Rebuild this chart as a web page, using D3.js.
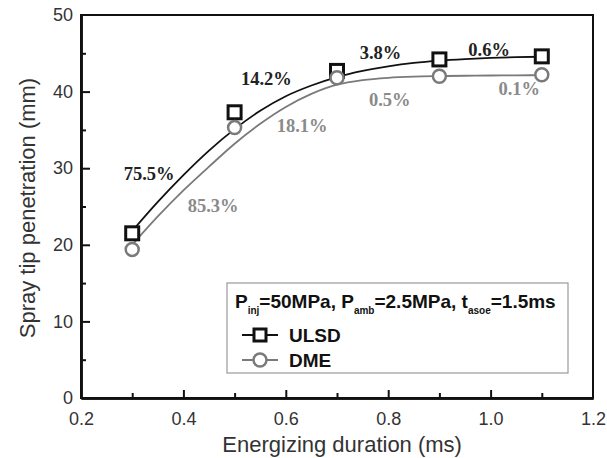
<!DOCTYPE html>
<html>
<head>
<meta charset="utf-8">
<script src="https://cdn.jsdelivr.net/npm/d3@7"></script>
<style>
  body { margin: 0; background: #fff; }
  svg { display: block; }
</style>
</head>
<body>
<svg id="chart"></svg>
<script>
// Measured points (energizing duration in ms, penetration in mm)
const durations = [0.3, 0.5, 0.7, 0.9, 1.1];
const ulsd_values = [21.5, 37.3, 42.7, 44.2, 44.6];
const dme_values = [19.4, 35.3, 41.8, 42.0, 42.2];

// Fitted curves
const fit_x = [0.3, 0.35, 0.4, 0.45, 0.5, 0.55, 0.6, 0.65, 0.7, 0.75, 0.8, 0.85, 0.9, 0.95, 1.0, 1.05, 1.1];
const ulsd_fit = [21.8, 25.6, 29.1, 32.3, 35.1, 37.5, 39.4, 40.8, 41.9, 42.7, 43.3, 43.75, 44.05, 44.25, 44.4, 44.5, 44.55];
const dme_fit = [20.0, 23.7, 27.1, 30.2, 33.2, 35.8, 38.0, 39.7, 40.9, 41.5, 41.8, 41.95, 42.02, 42.07, 42.1, 42.12, 42.15];

// Percentage annotations
const ulsd_labels = ["75.5%", "14.2%", "3.8%", "0.6%"];
const dme_labels = ["85.3%", "18.1%", "0.5%", "0.1%"];
const ulsd_label_pos = [[0.333, 28.4], [0.562, 40.8], [0.785, 44.3], [0.997, 44.6]];
const dme_label_pos = [[0.458, 24.3], [0.632, 34.7], [0.803, 38.1], [1.056, 39.5]];

const x_ticks = [0.2, 0.4, 0.6, 0.8, 1.0, 1.2];
const y_ticks = [0, 10, 20, 30, 40, 50];

// Chart size
const width = 607, height = 458;
const margins = { top: 15, right: 14, bottom: 60, left: 81 };
const chart_width = width - margins.left - margins.right;
const chart_height = height - margins.top - margins.bottom;

const x_scale = d3.scaleLinear().domain([0.2, 1.2]).range([0, chart_width]);
const y_scale = d3.scaleLinear().domain([0, 50]).range([chart_height, 0]);

const svg = d3.select("#chart")
    .attr("width", width)
    .attr("height", height);

const g = svg.append("g")
    .attr("transform", `translate(${margins.left},${margins.top})`);

// Frame (top and right borders)
g.append("rect")
    .attr("x", 0).attr("y", 0)
    .attr("width", chart_width).attr("height", chart_height)
    .attr("fill", "none")
    .attr("stroke", "#111")
    .attr("stroke-width", 2);

// Axes with inward ticks
const x_axis = g.append("g")
    .attr("transform", `translate(0,${chart_height})`)
    .call(d3.axisBottom(x_scale).tickValues(x_ticks).tickFormat(d3.format(".1f"))
        .tickSizeInner(-8).tickSizeOuter(0).tickPadding(14));
x_axis.selectAll(".tick").filter(d => d === 1.2 || d === 0.2).select("line").remove();

g.append("g")
    .attr("transform", `translate(0,${chart_height})`)
    .call(d3.axisBottom(x_scale).tickValues([0.3, 0.5, 0.7, 0.9, 1.1]).tickFormat("")
        .tickSizeInner(-5).tickSizeOuter(0));

const y_axis = g.append("g")
    .call(d3.axisLeft(y_scale).tickValues(y_ticks)
        .tickSizeInner(-9).tickSizeOuter(0).tickPadding(8));
y_axis.selectAll(".tick").filter(d => d === 0 || d === 50).select("line").remove();

g.append("g")
    .call(d3.axisLeft(y_scale).tickValues([5, 15, 25, 35, 45]).tickFormat("")
        .tickSizeInner(-5).tickSizeOuter(0));

g.selectAll(".domain").attr("stroke", "#111").attr("stroke-width", 2.5);
g.selectAll(".tick line").attr("stroke", "#111").attr("stroke-width", 2);
g.selectAll(".tick text")
    .attr("font-family", "Liberation Sans, Arial, sans-serif")
    .attr("font-size", 18)
    .attr("fill", "#333");

// Axis titles
svg.append("text")
    .attr("x", margins.left + x_scale(0.71))
    .attr("y", 452)
    .attr("text-anchor", "middle")
    .attr("font-family", "Liberation Sans, Arial, sans-serif")
    .attr("font-size", 22)
    .attr("fill", "#333")
    .text("Energizing duration (ms)");

svg.append("text")
    .attr("transform", `translate(35,${margins.top + y_scale(24.8)}) rotate(-90)`)
    .attr("text-anchor", "middle")
    .attr("font-family", "Liberation Sans, Arial, sans-serif")
    .attr("font-size", 22)
    .attr("fill", "#333")
    .text("Spray tip penetration (mm)");

// Fit curves
const fit_line = d3.line()
    .x(d => x_scale(d[0]))
    .y(d => y_scale(d[1]))
    .curve(d3.curveMonotoneX);

g.append("path")
    .datum(fit_x.map((x, i) => [x, ulsd_fit[i]]))
    .attr("d", fit_line)
    .attr("fill", "none")
    .attr("stroke", "#111")
    .attr("stroke-width", 1.8);

g.append("path")
    .datum(fit_x.map((x, i) => [x, dme_fit[i]]))
    .attr("d", fit_line)
    .attr("fill", "none")
    .attr("stroke", "#7a7a7a")
    .attr("stroke-width", 1.8);

// ULSD squares
g.selectAll("rect.ulsd")
    .data(durations.map((x, i) => [x, ulsd_values[i]]))
    .enter()
    .append("rect")
    .attr("class", "ulsd")
    .attr("x", d => x_scale(d[0]) - 6.5)
    .attr("y", d => y_scale(d[1]) - 6.5)
    .attr("width", 13)
    .attr("height", 13)
    .attr("fill", "#fff")
    .attr("stroke", "#111")
    .attr("stroke-width", 3);

// DME circles
g.selectAll("circle.dme")
    .data(durations.map((x, i) => [x, dme_values[i]]))
    .enter()
    .append("circle")
    .attr("class", "dme")
    .attr("cx", d => x_scale(d[0]))
    .attr("cy", d => y_scale(d[1]))
    .attr("r", 6.5)
    .attr("fill", "#fff")
    .attr("stroke", "#7a7a7a")
    .attr("stroke-width", 2.5);

// Percentage labels
const label_font = "Liberation Serif, Times New Roman, serif";
g.selectAll("text.ulsd-label")
    .data(ulsd_labels)
    .enter()
    .append("text")
    .attr("class", "ulsd-label")
    .attr("x", (d, i) => x_scale(ulsd_label_pos[i][0]))
    .attr("y", (d, i) => y_scale(ulsd_label_pos[i][1]))
    .attr("text-anchor", "middle")
    .attr("font-family", label_font)
    .attr("font-weight", "bold")
    .attr("font-size", 18.5)
    .attr("fill", "#222")
    .text(d => d);

g.selectAll("text.dme-label")
    .data(dme_labels)
    .enter()
    .append("text")
    .attr("class", "dme-label")
    .attr("x", (d, i) => x_scale(dme_label_pos[i][0]))
    .attr("y", (d, i) => y_scale(dme_label_pos[i][1]))
    .attr("text-anchor", "middle")
    .attr("font-family", label_font)
    .attr("font-weight", "bold")
    .attr("font-size", 18.5)
    .attr("fill", "#8a8a8a")
    .text(d => d);

// Legend
const legend = svg.append("g").attr("transform", "translate(227,283)");
legend.append("rect")
    .attr("width", 341).attr("height", 90)
    .attr("fill", "#fff")
    .attr("stroke", "#999")
    .attr("stroke-width", 1.2);

const title = legend.append("text")
    .attr("x", 8).attr("y", 25)
    .attr("font-family", "Liberation Sans, Arial, sans-serif")
    .attr("font-weight", "bold")
    .attr("font-size", 19)
    .attr("fill", "#111");
const title_parts = [["P", ""], ["inj", "sub"], ["=50MPa, P", ""], ["amb", "sub"], ["=2.5MPa, t", ""], ["asoe", "sub"], ["=1.5ms", ""]];
title_parts.forEach((p, i) => {
    const t = title.append("tspan").text(p[0]);
    if (p[1] === "sub") t.attr("font-size", 10).attr("dy", 6);
    else if (i > 0) t.attr("dy", -6);
});

const legend_rows = [
    { name: "ULSD", y: 52, color: "#111", shape: "square" },
    { name: "DME", y: 77, color: "#7a7a7a", shape: "circle" }
];
legend_rows.forEach(row => {
    legend.append("line")
        .attr("x1", 15).attr("x2", 51)
        .attr("y1", row.y).attr("y2", row.y)
        .attr("stroke", row.color).attr("stroke-width", 1.8);
    if (row.shape === "square") {
        legend.append("rect")
            .attr("x", 33 - 6).attr("y", row.y - 6)
            .attr("width", 12).attr("height", 12)
            .attr("fill", "#fff").attr("stroke", row.color).attr("stroke-width", 3);
    } else {
        legend.append("circle")
            .attr("cx", 33).attr("cy", row.y).attr("r", 6.5)
            .attr("fill", "#fff").attr("stroke", row.color).attr("stroke-width", 2.5);
    }
    legend.append("text")
        .attr("x", 62).attr("y", row.y + 7)
        .attr("font-family", "Liberation Sans, Arial, sans-serif")
        .attr("font-weight", "bold")
        .attr("font-size", 19)
        .attr("fill", "#111")
        .text(row.name);
});
</script>
</body>
</html>
